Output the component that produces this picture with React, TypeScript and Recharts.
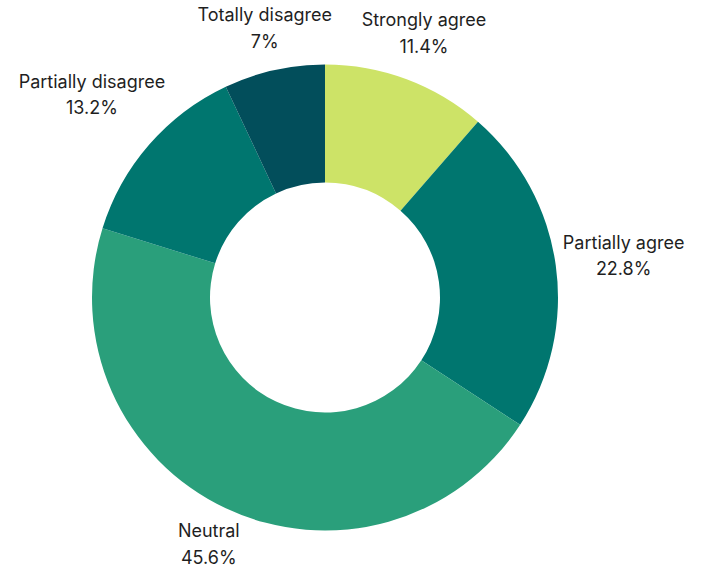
import { PieChart, Pie, Cell } from 'recharts';

const categories = ['Strongly agree', 'Partially agree', 'Neutral', 'Partially disagree', 'Totally disagree'];
const shares = [11.4, 22.8, 45.6, 13.2, 7];
const colors = ['#cde367', '#00766f', '#2a9f7b', '#00766f', '#024e5b'];

const data = categories.map((name, i) => ({ name, value: shares[i] }));

const FONT = '18px Inter';
const RADIAN = Math.PI / 180;

let ctx: CanvasRenderingContext2D | null = null;
function textWidth(s: string) {
  if (!ctx) ctx = document.createElement('canvas').getContext('2d');
  if (!ctx) return s.length * 9;
  ctx.font = FONT;
  return ctx.measureText(s).width;
}

// label box sits just outside the ring, pushed out along the mid angle
function renderLabel(props: any) {
  const { cx, cy, midAngle, outerRadius, name, value } = props;
  const c = Math.cos(-midAngle * RADIAN);
  const s = Math.sin(-midAngle * RADIAN);
  const pct = `${value}%`;
  const w = Math.max(textWidth(name), textWidth(pct));
  const d = outerRadius + 5 + Math.abs(c) * (w / 2) + Math.abs(s) * 24;
  const x = cx + d * c;
  const y = cy + d * s;
  return (
    <text
      x={x}
      y={y}
      textAnchor="middle"
      fill="#1f1f1f"
      style={{ font: FONT }}
    >
      <tspan x={x} y={y - 13.5} dominantBaseline="central">{name}</tspan>
      <tspan x={x} y={y + 13} dominantBaseline="central">{pct}</tspan>
    </text>
  );
}

export default function App() {
  return (
    <div style={{ position: 'absolute', left: 0, top: 0, width: 708, height: 568, background: '#fff' }}>
      <PieChart width={708} height={568} margin={{ top: 0, right: 0, bottom: 0, left: 0 }}>
        <Pie
          data={data}
          dataKey="value"
          nameKey="name"
          cx={325}
          cy={297.5}
          innerRadius={115}
          outerRadius={233}
          startAngle={90}
          endAngle={-270}
          stroke="none"
          labelLine={false}
          label={renderLabel}
          isAnimationActive={false}
        >
          {data.map((d, i) => (
            <Cell key={d.name} fill={colors[i]} />
          ))}
        </Pie>
      </PieChart>
    </div>
  );
}
